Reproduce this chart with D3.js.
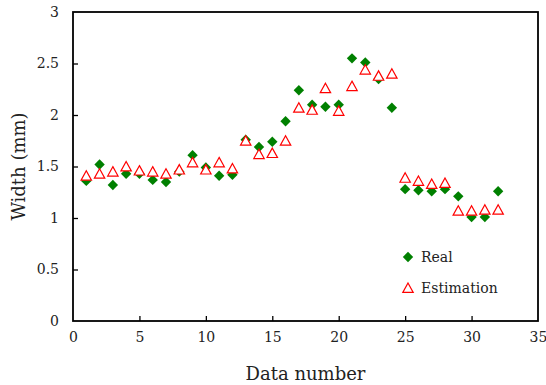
<!DOCTYPE html>
<html>
<head>
<meta charset="utf-8">
<script src="https://cdn.jsdelivr.net/npm/d3@7"></script>
<style>
  html, body { margin: 0; padding: 0; background: #fff; }
  svg { display: block; }
  text { font-family: "DejaVu Serif", "Liberation Serif", serif; fill: #222; }
</style>
</head>
<body>
<svg id="chart" width="546" height="385"></svg>
<script>
// Measured crack width per sample, real vs. estimated (mm)
const dataNumbers = d3.range(1, 33);
const realWidth = [
  1.36, 1.52, 1.32, 1.43, 1.43, 1.37, 1.35, 1.45,
  1.61, 1.49, 1.41, 1.42, 1.76, 1.69, 1.74, 1.94,
  2.24, 2.10, 2.08, 2.10, 2.55, 2.51, 2.35, 2.07,
  1.28, 1.27, 1.26, 1.28, 1.21, 1.01, 1.01, 1.26
];
const estimatedWidth = [
  1.41, 1.43, 1.45, 1.50, 1.46, 1.45, 1.43, 1.47,
  1.54, 1.47, 1.54, 1.48, 1.75, 1.62, 1.63, 1.75,
  2.07, 2.05, 2.26, 2.04, 2.28, 2.44, 2.38, 2.40,
  1.39, 1.36, 1.33, 1.34, 1.07, 1.07, 1.08, 1.08
];
const xTicks = [0, 5, 10, 15, 20, 25, 30, 35];
const yTicks = [0, 0.5, 1, 1.5, 2, 2.5, 3];
const legendLabels = ["Real", "Estimation"];

const svg = d3.select("#chart");
const margin = { left: 73, right: 8, top: 12, bottom: 64 };
const W = 546, H = 385;

const x = d3.scaleLinear().domain([0, 35]).range([margin.left, W - margin.right]);
const y = d3.scaleLinear().domain([0, 3]).range([H - margin.bottom, margin.top]);

// Axes with inward ticks
const xAxis = d3.axisBottom(x).tickValues(xTicks).tickSize(-5).tickPadding(11)
  .tickFormat(d3.format("d"));
const yAxis = d3.axisLeft(y).tickValues(yTicks).tickSize(-5).tickPadding(14)
  .tickFormat(d => String(d));

const gx = svg.append("g").attr("transform", `translate(0,${y(0)})`).call(xAxis);
const gy = svg.append("g").attr("transform", `translate(${x(0)},0)`).call(yAxis);
[gx, gy].forEach(g => {
  g.select(".domain").remove();
  g.selectAll(".tick line").attr("stroke", "#000").attr("stroke-width", 1.3);
  g.selectAll(".tick text").style("font-size", "14px").attr("fill", "#222");
});
gx.selectAll(".tick").filter(d => d === 0 || d === 35).select("line").remove();
gy.selectAll(".tick").filter(d => d === 0 || d === 3).select("line").remove();

// Plot frame
svg.append("rect")
  .attr("x", x(0)).attr("y", y(3))
  .attr("width", x(35) - x(0)).attr("height", y(0) - y(3))
  .attr("fill", "none").attr("stroke", "#000").attr("stroke-width", 1.8);

// Axis titles
svg.append("text")
  .attr("x", (x(0) + x(35)) / 2).attr("y", 380)
  .attr("text-anchor", "middle").style("font-size", "18px")
  .text("Data number");
svg.append("text")
  .attr("transform", `translate(25,${(y(0) + y(3)) / 2}) rotate(-90)`)
  .attr("text-anchor", "middle").style("font-size", "18px")
  .text("Width (mm)");

// Marker shapes
const diamondPath = "M0,-5.2L5.2,0L0,5.2L-5.2,0Z";
const trianglePath = "M0,-5L5.2,4.4L-5.2,4.4Z";

const real = dataNumbers.map((n, i) => ({ n, v: realWidth[i] }));
const est = dataNumbers.map((n, i) => ({ n, v: estimatedWidth[i] }));

svg.append("g").selectAll("path").data(real).join("path")
  .attr("d", diamondPath)
  .attr("transform", d => `translate(${x(d.n)},${y(d.v)})`)
  .attr("fill", "#008000");

svg.append("g").selectAll("path").data(est).join("path")
  .attr("d", trianglePath)
  .attr("transform", d => `translate(${x(d.n)},${y(d.v)})`)
  .attr("fill", "#fff").attr("stroke", "#ff0000").attr("stroke-width", 1.2);

// Legend
const legend = svg.append("g");
const legendRows = [
  { label: legendLabels[0], path: diamondPath, fill: "#008000", stroke: "none", yy: 257 },
  { label: legendLabels[1], path: trianglePath, fill: "#fff", stroke: "#ff0000", yy: 288 }
];
legendRows.forEach(r => {
  legend.append("path").attr("d", r.path)
    .attr("transform", `translate(408,${r.yy})`)
    .attr("fill", r.fill).attr("stroke", r.stroke).attr("stroke-width", 1.2);
  legend.append("text").attr("x", 421).attr("y", r.yy + 5)
    .style("font-size", "14px").text(r.label);
});
</script>
</body>
</html>
